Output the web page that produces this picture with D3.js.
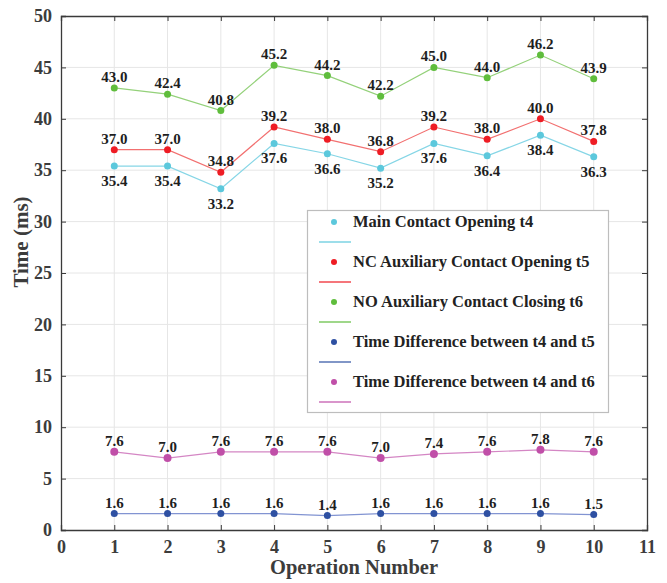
<!DOCTYPE html>
<html><head><meta charset="utf-8">
<script src="https://cdn.jsdelivr.net/npm/d3@7"></script>
<style>body{margin:0;background:#fff}svg{display:block}</style>
</head><body>
<svg id="c" width="667" height="583"></svg>
<script>
const operations = [1,2,3,4,5,6,7,8,9,10];
const t4 = [35.4,35.4,33.2,37.6,36.6,35.2,37.6,36.4,38.4,36.3];
const t5 = [37.0,37.0,34.8,39.2,38.0,36.8,39.2,38.0,40.0,37.8];
const t6 = [43.0,42.4,40.8,45.2,44.2,42.2,45.0,44.0,46.2,43.9];
const d45 = [1.6,1.6,1.6,1.6,1.4,1.6,1.6,1.6,1.6,1.5];
const d46 = [7.6,7.0,7.6,7.6,7.6,7.0,7.4,7.6,7.8,7.6];
const xTicks = [0,1,2,3,4,5,6,7,8,9,10,11];
const yTicks = [0,5,10,15,20,25,30,35,40,45,50];
const seriesNames = ["Main Contact Opening t4","NC Auxiliary Contact Opening t5","NO Auxiliary Contact Closing t6","Time Difference between t4 and t5","Time Difference between t4 and t6"];

const series = [
  {name:seriesNames[0], v:t4, dot:"#5cc8dc", line:"#86d6e6", below:true, r:3.5},
  {name:seriesNames[1], v:t5, dot:"#ee1c24", line:"#f27070", below:false, r:3.5},
  {name:seriesNames[2], v:t6, dot:"#5fbd3c", line:"#94d17a", below:false, r:3.5},
  {name:seriesNames[3], v:d45, dot:"#2e50a2", line:"#8294d2", below:false, r:3.5},
  {name:seriesNames[4], v:d46, dot:"#c04fa8", line:"#d486c4", below:false, r:4}
];

const svg = d3.select("#c");
const L=61, R=647, T=16, B=530;
const x = d3.scaleLinear().domain([0,11]).range([L,R]);
const y = d3.scaleLinear().domain([0,50]).range([B,T]);
const font = '"Liberation Serif"';
const axisCol = "#3a3a3a";

function txt(sel, size, color){
  return sel.style("font-family",font).style("font-size",size+"px").style("font-weight","bold").attr("fill",color);
}

// grid
const g = svg.append("g");
g.selectAll(".gx").data(xTicks.slice(1,-1)).enter().append("line")
  .attr("x1",d=>x(d)).attr("x2",d=>x(d)).attr("y1",T).attr("y2",B)
  .attr("stroke","#e6e6e6").attr("stroke-width",1);
g.selectAll(".gy").data(yTicks.slice(1,-1)).enter().append("line")
  .attr("y1",d=>y(d)).attr("y2",d=>y(d)).attr("x1",L).attr("x2",R)
  .attr("stroke","#e6e6e6").attr("stroke-width",1);

// axes
const ax = svg.append("g").attr("transform",`translate(0,${B})`)
  .call(d3.axisBottom(x).tickValues(xTicks).tickSize(-5).tickPadding(10).tickFormat(d3.format("d")));
const axT = svg.append("g").attr("transform",`translate(0,${T})`)
  .call(d3.axisTop(x).tickValues(xTicks).tickSize(-5).tickFormat(""));
const ay = svg.append("g").attr("transform",`translate(${L},0)`)
  .call(d3.axisLeft(y).tickValues(yTicks).tickSize(-5).tickPadding(9).tickFormat(d3.format("d")));
const ayR = svg.append("g").attr("transform",`translate(${R},0)`)
  .call(d3.axisRight(y).tickValues(yTicks).tickSize(-5).tickFormat(""));
[ax,axT,ay,ayR].forEach(a=>{
  a.attr("font-family",null).attr("font-size",null);
  a.select(".domain").attr("stroke",axisCol).attr("stroke-width",1.3);
  a.selectAll(".tick line").attr("stroke",axisCol).attr("stroke-width",1);
  txt(a.selectAll(".tick text"),18,"#3c3c3c");
});

// axis titles
txt(svg.append("text").attr("x",(L+R)/2).attr("y",574).attr("text-anchor","middle"),20.5,"#3c3c3c")
  .text("Operation Number");
txt(svg.append("text").attr("transform",`translate(28,242) rotate(-90)`).attr("text-anchor","middle"),21,"#3c3c3c")
  .text("Time (ms)");

// lines & points
const line = d3.line().x((d,i)=>x(operations[i])).y(d=>y(d));
series.forEach(s=>{
  svg.append("path").datum(s.v).attr("d",line).attr("fill","none")
    .attr("stroke",s.line).attr("stroke-width",1.2);
  svg.selectAll(null).data(s.v).enter().append("circle")
    .attr("cx",(d,i)=>x(operations[i])).attr("cy",d=>y(d)).attr("r",s.r).attr("fill",s.dot);
  txt(svg.selectAll(null).data(s.v).enter().append("text")
    .attr("x",(d,i)=>x(operations[i])).attr("y",d=>y(d)+(s.below?20:-6))
    .attr("text-anchor","middle"),15,"#1e1e1e").text(d=>d.toFixed(1));
});

// legend
const lg = svg.append("g");
lg.append("rect").attr("x",307.5).attr("y",210.5).attr("width",301).attr("height",202)
  .attr("fill","#fff").attr("stroke","#bdbdbd").attr("stroke-width",1.2);
series.forEach((s,i)=>{
  const yy = 222 + i*40;
  lg.append("circle").attr("cx",334).attr("cy",yy).attr("r",3).attr("fill",s.dot);
  lg.append("line").attr("x1",319).attr("x2",351).attr("y1",yy+20).attr("y2",yy+20)
    .attr("stroke",s.dot).attr("stroke-width",1.2);
  txt(lg.append("text").attr("x",353).attr("y",yy+5),16.5,"#222").text(s.name);
});
</script>
</body></html>
